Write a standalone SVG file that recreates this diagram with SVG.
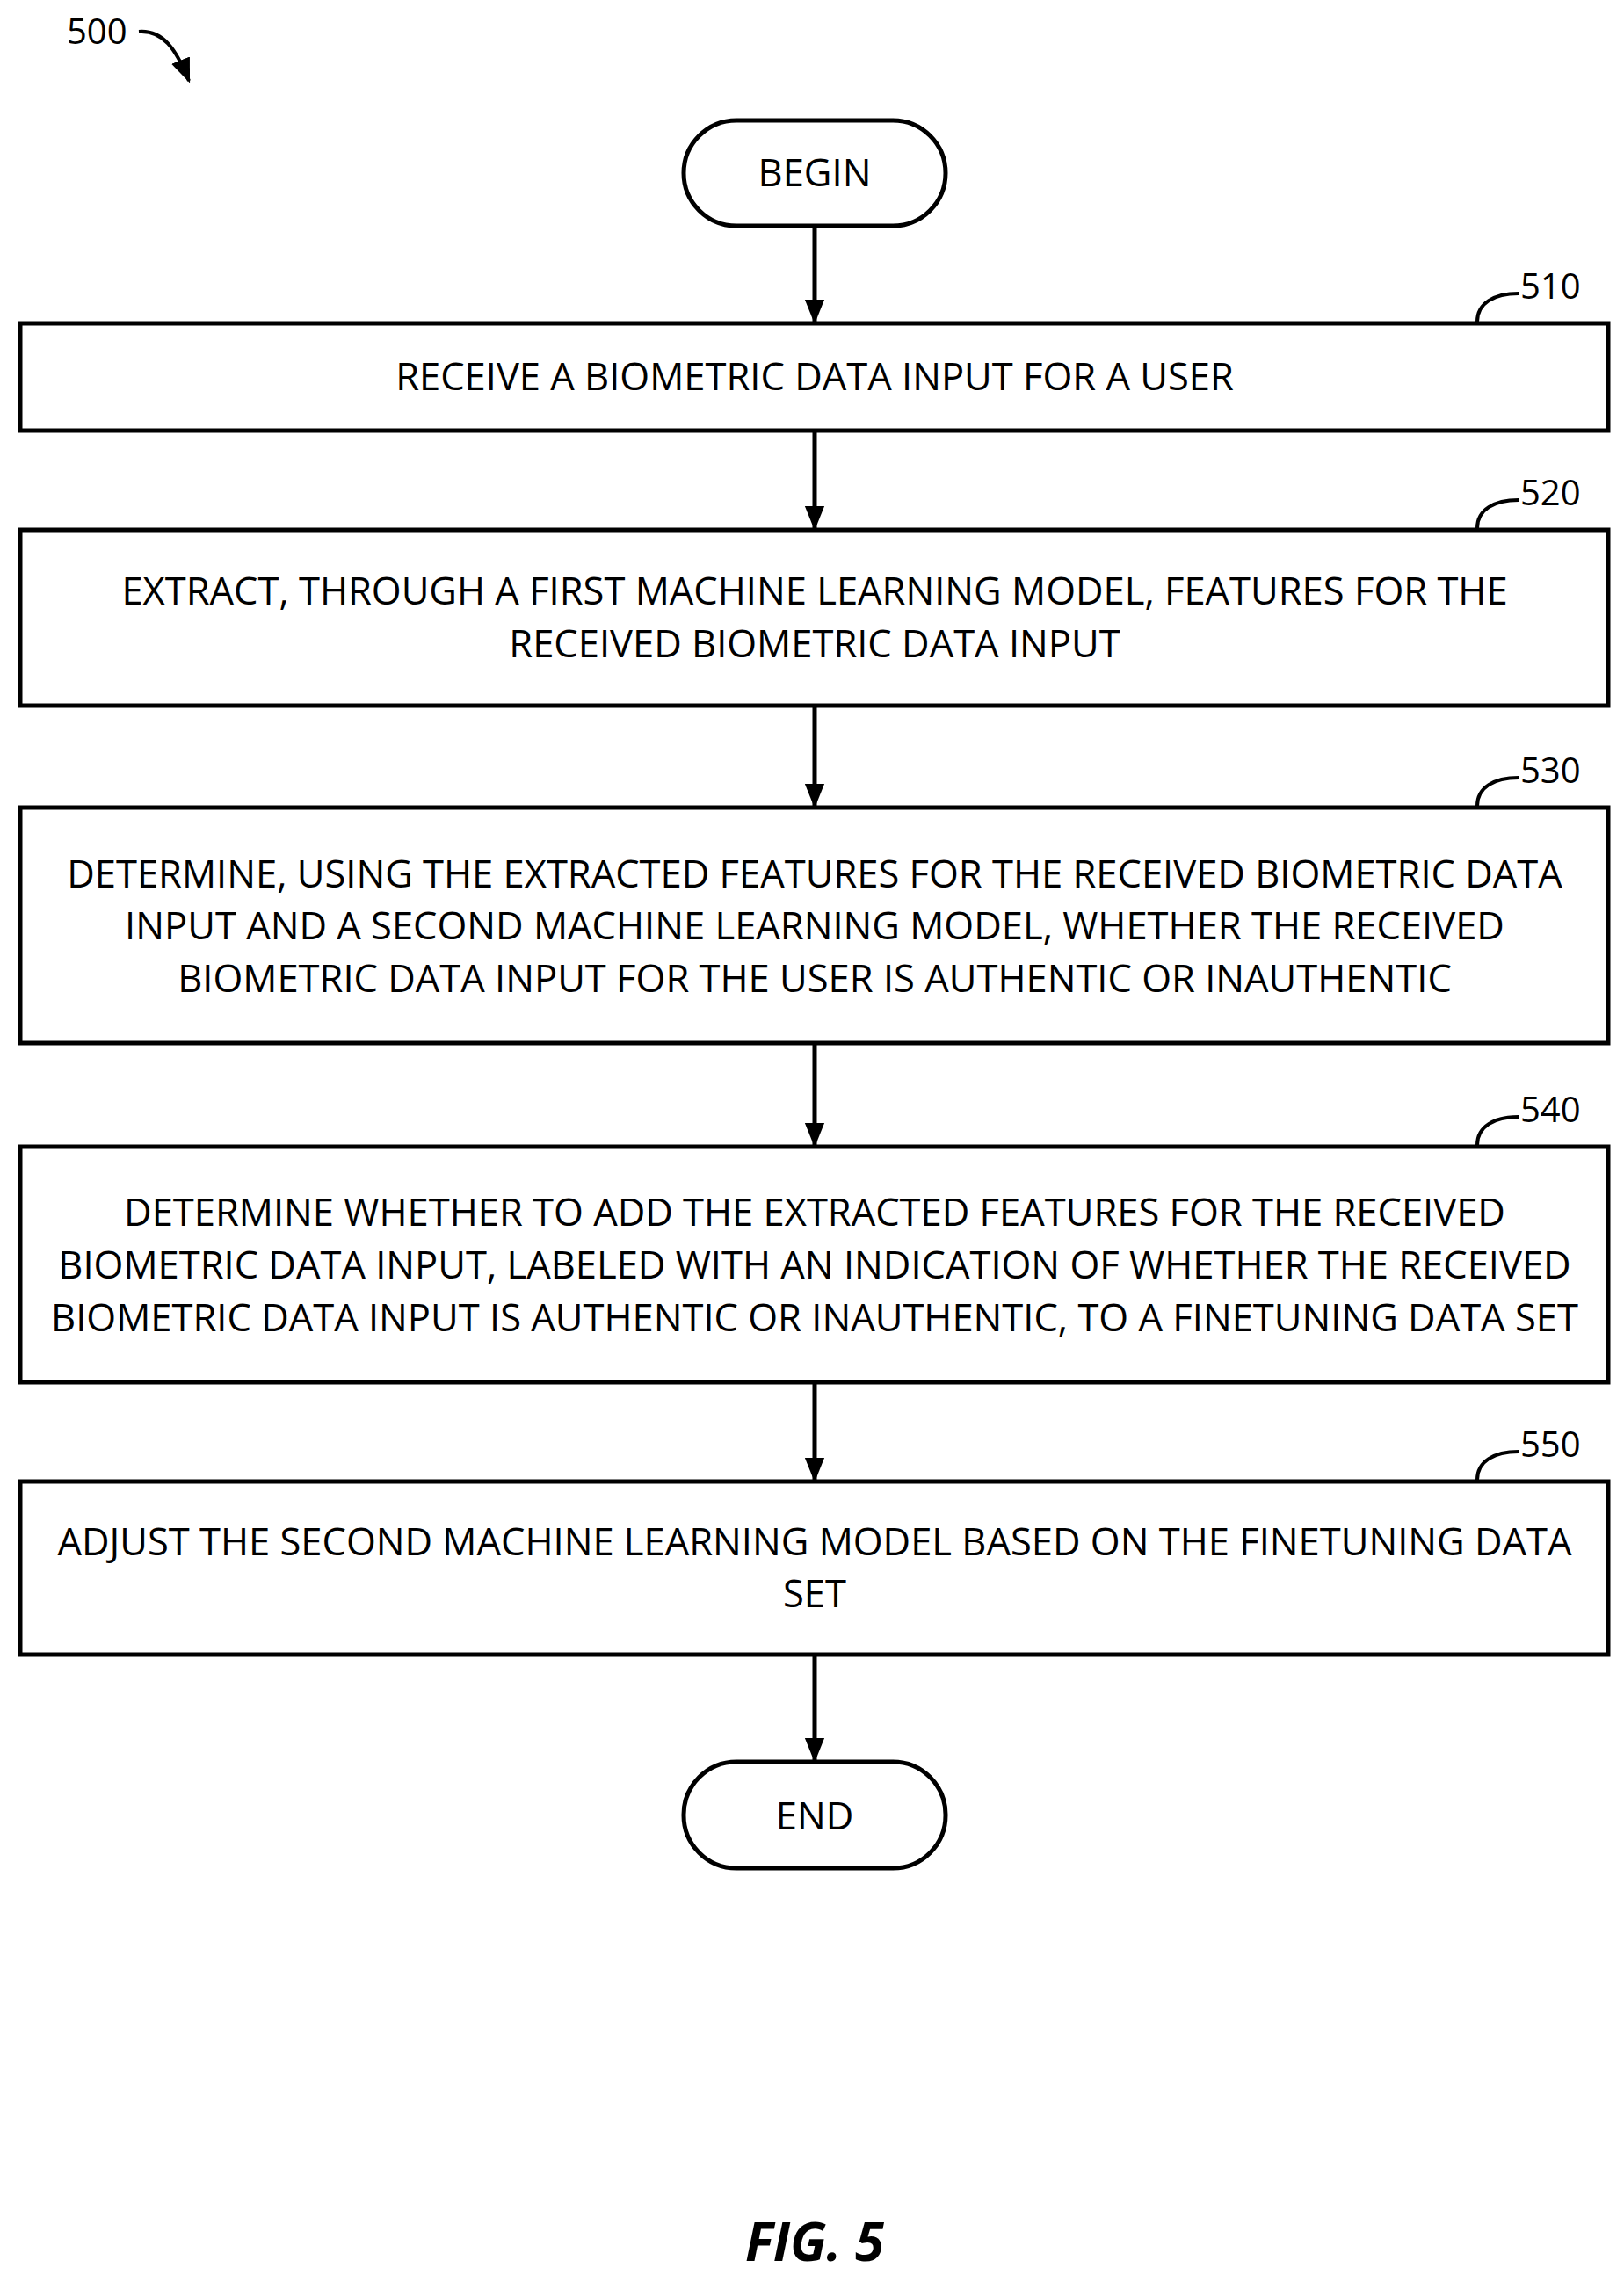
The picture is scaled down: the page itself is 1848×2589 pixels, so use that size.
<svg xmlns="http://www.w3.org/2000/svg" width="1848" height="2589" viewBox="0 0 1848 2589">
<style>
.b{fill:#fff;stroke:#000;stroke-width:5}
.t{font-family:"Open Sans","Liberation Sans",sans-serif;font-size:43.5px;text-anchor:middle;fill:#000}
.r{font-family:"Open Sans","Liberation Sans",sans-serif;font-size:40px;fill:#000}
.c{fill:none;stroke:#000;stroke-width:4}
</style>
<defs>
<marker id="ah" viewBox="0 0 10 10" refX="9" refY="5" markerWidth="28" markerHeight="28" orient="auto" markerUnits="userSpaceOnUse"><path d="M0,1L10,5L0,9z"/></marker></defs>
<rect width="1848" height="2589" fill="#fff"/>
<g id="label500"><text class="r" x="76" y="50">500</text><path class="c" d="M158,36 C185,34 200,55 215,92" marker-end="url(#ah)"/></g>
<g id="begin"><rect class="b" x="778" y="137" width="298" height="120" rx="60"/><text class="t" x="927" y="212">BEGIN</text></g>
<g id="n510"><rect class="b" x="23" y="368" width="1807" height="122"/><text class="t" x="927" y="444">RECEIVE A BIOMETRIC DATA INPUT FOR A USER</text><path class="c" d="M1681,366 C1681,345 1700,334 1728,334"/><text class="r" x="1730" y="340">510</text></g>
<g id="n520"><rect class="b" x="23" y="603" width="1807" height="200"/><text class="t" x="927" y="688">EXTRACT, THROUGH A FIRST MACHINE LEARNING MODEL, FEATURES FOR THE</text><text class="t" x="927" y="748">RECEIVED BIOMETRIC DATA INPUT</text><path class="c" d="M1681,601 C1681,580 1700,569 1728,569"/><text class="r" x="1730" y="575">520</text></g>
<g id="n530"><rect class="b" x="23" y="919" width="1807" height="268"/><text class="t" x="927" y="1010">DETERMINE, USING THE EXTRACTED FEATURES FOR THE RECEIVED BIOMETRIC DATA</text><text class="t" x="927" y="1069">INPUT AND A SECOND MACHINE LEARNING MODEL, WHETHER THE RECEIVED</text><text class="t" x="927" y="1129">BIOMETRIC DATA INPUT FOR THE USER IS AUTHENTIC OR INAUTHENTIC</text><path class="c" d="M1681,917 C1681,896 1700,885 1728,885"/><text class="r" x="1730" y="891">530</text></g>
<g id="n540"><rect class="b" x="23" y="1305" width="1807" height="268"/><text class="t" x="927" y="1395">DETERMINE WHETHER TO ADD THE EXTRACTED FEATURES FOR THE RECEIVED</text><text class="t" x="927" y="1455">BIOMETRIC DATA INPUT, LABELED WITH AN INDICATION OF WHETHER THE RECEIVED</text><text class="t" x="927" y="1515">BIOMETRIC DATA INPUT IS AUTHENTIC OR INAUTHENTIC, TO A FINETUNING DATA SET</text><path class="c" d="M1681,1303 C1681,1282 1700,1271 1728,1271"/><text class="r" x="1730" y="1277">540</text></g>
<g id="n550"><rect class="b" x="23" y="1686" width="1807" height="197"/><text class="t" x="927" y="1770">ADJUST THE SECOND MACHINE LEARNING MODEL BASED ON THE FINETUNING DATA</text><text class="t" x="927" y="1829">SET</text><path class="c" d="M1681,1684 C1681,1663 1700,1652 1728,1652"/><text class="r" x="1730" y="1658">550</text></g>
<g id="end"><rect class="b" x="778" y="2005" width="298" height="121" rx="60"/><text class="t" x="927" y="2082">END</text></g>
<g id="connectors" stroke="#000" stroke-width="5">
<line x1="927" y1="259" x2="927" y2="366" marker-end="url(#ah)"/>
<line x1="927" y1="492" x2="927" y2="601" marker-end="url(#ah)"/>
<line x1="927" y1="805" x2="927" y2="917" marker-end="url(#ah)"/>
<line x1="927" y1="1189" x2="927" y2="1303" marker-end="url(#ah)"/>
<line x1="927" y1="1575" x2="927" y2="1684" marker-end="url(#ah)"/>
<line x1="927" y1="1885" x2="927" y2="2003" marker-end="url(#ah)"/>
</g>
<text x="927" y="2573" style="font-family:'Open Sans','Liberation Sans',sans-serif;font-size:60px;font-weight:bold;font-style:italic;text-anchor:middle">FIG. 5</text>
</svg>
